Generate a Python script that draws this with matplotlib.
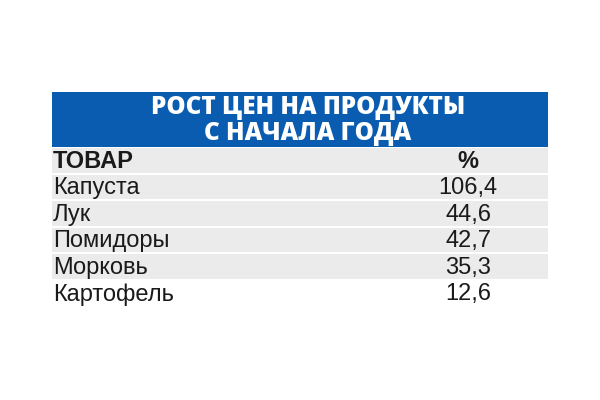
import matplotlib.pyplot as plt
from matplotlib.patches import Rectangle

title_lines = ["РОСТ ЦЕН НА ПРОДУКТЫ", "С НАЧАЛА ГОДА"]
header = ["ТОВАР", "%"]
products = ["Капуста", "Лук", "Помидоры", "Морковь", "Картофель"]
values = ["106,4", "44,6", "42,7", "35,3", "12,6"]

fig = plt.figure(figsize=(6, 4), dpi=100)
ax = fig.add_axes([0, 0, 1, 1])
ax.set_xlim(0, 600); ax.set_ylim(400, 0); ax.axis('off')
fam = ['Liberation Sans', 'DejaVu Sans']

ax.add_patch(Rectangle((52, 92), 496, 55, color='#0a5cb0', lw=0))
for k, line in enumerate(title_lines):
    ax.text(308, 108 + k * 25, line, color='white', ha='center', va='center',
            fontsize=17.5, fontweight='heavy', family=['Open Sans', 'DejaVu Sans'])

top = 148; rh = 26.6; xnum = 468
rows = [header] + list(zip(products, values))
for i, (name, val) in enumerate(rows):
    y0 = top + i * rh
    if i < len(rows) - 1:
        ax.add_patch(Rectangle((52, y0), 496, rh - 2, color='#ebebeb', lw=0))
    yc = y0 + rh / 2
    w = 'bold' if i == 0 else 'normal'
    ax.text(53, yc, name, ha='left', va='center', fontsize=17, fontweight=w,
            family=fam, color='#1a1a1a')
    ax.text(xnum, yc, val, ha='center', va='center', fontsize=17, fontweight=w,
            family=fam, color='#1a1a1a')

fig.savefig('out.png', dpi=100, facecolor='white')
